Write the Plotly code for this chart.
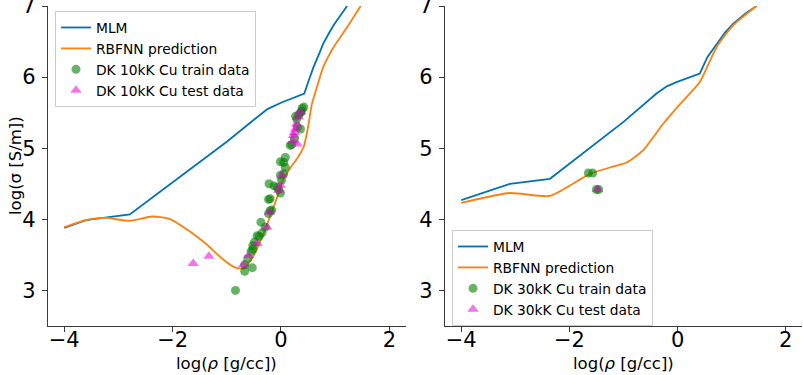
import plotly.graph_objects as go

# ---------------- data: left panel (10kK) ----------------
mlm10_x = [-4.0, -3.60, -2.79, -2.19, -1.5, -1.0, -0.5, -0.25, 0.0, 0.2, 0.43, 0.52, 0.60, 0.70, 0.78, 0.88, 0.97, 1.10, 1.22]
mlm10_y = [3.88, 3.99, 4.07, 4.41, 4.80, 5.09, 5.40, 5.55, 5.64, 5.70, 5.77, 5.97, 6.14, 6.32, 6.47, 6.61, 6.73, 6.87, 7.0]

rbf10_x = [-4.0, -3.60, -3.24, -2.79, -2.38, -2.07, -1.70, -1.39, -1.09, -0.84, -0.69, -0.60, -0.47, -0.35,
           -0.23, -0.14, -0.07, 0.02, 0.17, 0.32, 0.42, 0.50, 0.57, 0.66, 0.78, 0.97, 1.22, 1.47]
rbf10_y = [3.89, 3.99, 4.02, 3.98, 4.04, 4.01, 3.84, 3.66, 3.45, 3.32, 3.31, 3.38, 3.54, 3.75,
           3.98, 4.17, 4.31, 4.52, 4.72, 4.88, 5.02, 5.30, 5.62, 5.85, 6.14, 6.42, 6.70, 7.0]

train10_x = [-0.84, -0.67, -0.67, -0.53, -0.61, -0.55, -0.52, -0.52, -0.49, -0.44, -0.40, -0.35, -0.37, -0.29,
             -0.23, -0.20, -0.17, -0.23, -0.20, -0.22, -0.13, -0.07, -0.01, -0.04, 0.01, -0.01, 0.05, 0.08,
             0.05, -0.01, 0.08, 0.17, 0.20, 0.25, 0.36, 0.30, 0.29, 0.33, 0.38, 0.39, 0.42, 0.36, 0.27]
train10_y = [3.00, 3.27, 3.36, 3.32, 3.45, 3.55, 3.58, 3.63, 3.68, 3.77, 3.76, 3.81, 3.96, 3.89,
             4.08, 4.12, 4.13, 4.28, 4.29, 4.50, 4.47, 4.45, 4.37, 4.42, 4.55, 4.62, 4.64, 4.73,
             4.80, 4.81, 4.87, 5.04, 5.05, 5.14, 5.27, 5.30, 5.41, 5.47, 5.52, 5.56, 5.58, 5.50, 5.45]

test10_x = [-1.62, -1.33, -0.69, -0.60, -0.44, -0.26, -0.21, -0.04, -0.01, 0.02, 0.22, 0.23, 0.25, 0.29,
            0.32, 0.36, 0.30, 0.27]
test10_y = [3.38, 3.48, 3.36, 3.49, 3.66, 3.89, 4.10, 4.41, 4.48, 4.62, 5.10, 5.18, 5.22, 5.34,
            5.44, 5.51, 5.06, 5.27]

# ---------------- data: right panel (30kK) ----------------
mlm30_x = [-4.0, -3.10, -2.36, -1.5, -1.0, -0.39, -0.2, -0.02, 0.2, 0.41, 0.55, 0.72, 0.88, 1.03, 1.25, 1.46]
mlm30_y = [4.27, 4.50, 4.57, 5.07, 5.37, 5.77, 5.87, 5.93, 5.99, 6.05, 6.28, 6.47, 6.63, 6.75, 6.89, 7.0]

rbf30_x = [-4.0, -3.10, -2.36, -1.62, -1.2, -0.94, -0.64, -0.27, 0.02, 0.41, 0.72, 1.03, 1.46]
rbf30_y = [4.23, 4.37, 4.33, 4.64, 4.74, 4.80, 4.97, 5.34, 5.60, 5.93, 6.42, 6.73, 7.0]

train30_x = [-1.65, -1.57, -1.50, -1.46]
train30_y = [4.65, 4.65, 4.42, 4.42]

test30_x = [-1.48]
test30_y = [4.42]

x_ticks = [-4, -2, 0, 2]
y_ticks = [3, 4, 5, 6, 7]

BLUE = "#0072B5"
ORANGE = "#FF7F0E"
GREEN = "rgba(0,128,0,0.6)"
PINK = "rgba(235,0,215,0.55)"
FONT = "DejaVu Sans"

fig = go.Figure()


def add_panel(xa, ya, leg, mx, my, rx, ry, tx, ty, sx, sy, temp):
    fig.add_trace(go.Scatter(x=mx, y=my, mode="lines", name="MLM",
                             line=dict(color=BLUE, width=1.8), xaxis=xa, yaxis=ya, legend=leg))
    fig.add_trace(go.Scatter(x=rx, y=ry, mode="lines", name="RBFNN prediction",
                             line=dict(color=ORANGE, width=1.8, shape="spline", smoothing=0.6),
                             xaxis=xa, yaxis=ya, legend=leg))
    fig.add_trace(go.Scatter(x=tx, y=ty, mode="markers", name=f"DK {temp} Cu train data",
                             marker=dict(color=GREEN, size=9, symbol="circle", line=dict(width=0)),
                             xaxis=xa, yaxis=ya, legend=leg))
    fig.add_trace(go.Scatter(x=sx, y=sy, mode="markers", name=f"DK {temp} Cu test data",
                             marker=dict(color=PINK, size=10, symbol="triangle-up", line=dict(width=0)),
                             xaxis=xa, yaxis=ya, legend=leg))


add_panel("x", "y", "legend", mlm10_x, mlm10_y, rbf10_x, rbf10_y,
          train10_x, train10_y, test10_x, test10_y, "10kK")
add_panel("x2", "y2", "legend2", mlm30_x, mlm30_y, rbf30_x, rbf30_y,
          train30_x, train30_y, test30_x, test30_y, "30kK")

W, H = 803, 375
ydom = [(375 - 326) / H, (375 - 6) / H]

axis_common = dict(
    showline=True, linecolor="#3a3a3a", linewidth=1.2, mirror=False,
    ticks="outside", ticklen=5, tickwidth=1.2, tickcolor="#3a3a3a",
    showgrid=False, zeroline=False, ticklabeloverflow="allow", automargin=False,
    tickfont=dict(family=FONT, size=21, color="black"),
)
xaxis_extra = dict(ticklabelstandoff=-10)
yaxis_extra = dict(ticklabelstandoff=2)

leg_common = dict(xanchor="left", yanchor="top",
                  bgcolor="rgba(255,255,255,0.8)", bordercolor="#cccccc", borderwidth=1,
                  font=dict(family=FONT, size=13.8), itemwidth=30, tracegroupgap=0)

fig.update_layout(
    template="none",
    width=W, height=H,
    margin=dict(l=0, r=0, t=0, b=0, autoexpand=False),
    paper_bgcolor="white", plot_bgcolor="white",
    font=dict(family=FONT, color="black"),
    xaxis=dict(domain=[48 / W, 405.6 / W], range=[-4.3, 2.3], tickvals=x_ticks, anchor="y",
               **axis_common, **xaxis_extra),
    yaxis=dict(domain=ydom, range=[2.5, 7], tickvals=y_ticks, anchor="x",
               **axis_common, **yaxis_extra),
    xaxis2=dict(domain=[445 / W, 802 / W], range=[-4.3, 2.3], tickvals=x_ticks, anchor="y2",
                **axis_common, **xaxis_extra),
    yaxis2=dict(domain=ydom, range=[2.5, 7], tickvals=y_ticks, anchor="x2",
                **axis_common, **yaxis_extra),
    legend=dict(x=55 / W, y=1 - 11 / H, **leg_common),
    legend2=dict(x=452 / W, y=1 - 230 / H, **leg_common),
    showlegend=True,
    annotations=[
        dict(text="log(<i>ρ</i> [g/cc])", xref="paper", yref="paper",
             x=(48 + 405.6) / 2 / W, y=(375 - 363) / H, xanchor="center", yanchor="middle",
             showarrow=False, font=dict(family=FONT, size=16.5)),
        dict(text="log(<i>ρ</i> [g/cc])", xref="paper", yref="paper",
             x=(445 + 802) / 2 / W, y=(375 - 363) / H, xanchor="center", yanchor="middle",
             showarrow=False, font=dict(family=FONT, size=16.5)),
        dict(text="log(σ [S/m])", xref="paper", yref="paper",
             x=15 / W, y=(375 - 166) / H, xanchor="center", yanchor="middle", textangle=-90,
             showarrow=False, font=dict(family=FONT, size=16.5)),
    ],
)

fig.write_html("out.html", config={"displayModeBar": False},
               post_script="document.body.style.margin='0';document.body.style.overflow='hidden';")
